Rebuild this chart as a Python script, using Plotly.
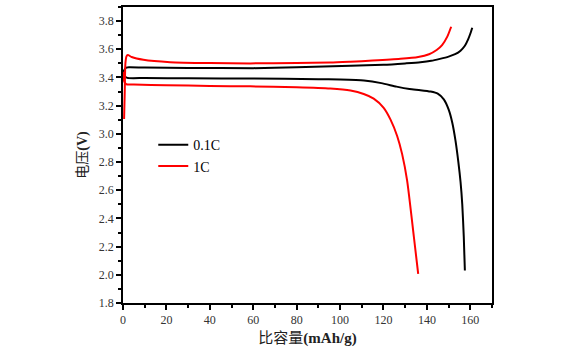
import plotly.graph_objects as go

# 0.1C charge / discharge
c01_charge_x = [0, 0.5, 1.5, 3, 10, 30, 60, 80, 105, 120, 130, 137, 142, 146, 150, 153, 155.5, 157.5, 159, 160, 160.9]
c01_charge_v = [3.40, 3.45, 3.47, 3.472, 3.47, 3.468, 3.466, 3.472, 3.483, 3.49, 3.50, 3.508, 3.518, 3.532, 3.548, 3.565, 3.59, 3.625, 3.67, 3.71, 3.753]
c01_dis_x = [0, 0.8, 2, 10, 30, 60, 90, 100, 111, 119, 126, 132, 137, 141.7, 145, 147.8, 150, 151.7, 153.2, 154.5, 155.5, 156.3, 157, 157.5]
c01_dis_v = [3.45, 3.41, 3.397, 3.396, 3.394, 3.392, 3.388, 3.385, 3.378, 3.36, 3.335, 3.318, 3.31, 3.30, 3.285, 3.244, 3.173, 3.079, 2.95, 2.80, 2.66, 2.50, 2.27, 2.03]

# 1C charge / discharge
c1_charge_x = [0.5, 0.8, 1.1, 1.6, 2.2, 4, 9.4, 21.7, 40, 58.6, 80, 95.5, 104.8, 115, 127.8, 136, 141, 144.5, 147, 149.4, 151.2]
c1_charge_v = [3.105, 3.3, 3.5, 3.55, 3.56, 3.545, 3.525, 3.508, 3.502, 3.50, 3.503, 3.506, 3.512, 3.52, 3.532, 3.545, 3.565, 3.595, 3.63, 3.69, 3.76]
c1_dis_x = [0, 0.6, 1.5, 5, 20, 40, 58.6, 80, 95.5, 104.8, 110.9, 115.5, 120.1, 123.2, 126.3, 128.6, 130.9, 134, 136]
c1_dis_v = [3.44, 3.37, 3.352, 3.35, 3.345, 3.34, 3.337, 3.33, 3.321, 3.307, 3.283, 3.25, 3.185, 3.103, 2.985, 2.856, 2.668, 2.27, 2.006]

x_ticks = [0, 20, 40, 60, 80, 100, 120, 140, 160]
y_ticks = [1.8, 2.0, 2.2, 2.4, 2.6, 2.8, 3.0, 3.2, 3.4, 3.6, 3.8]

SERIF = "Liberation Serif, Times New Roman, Noto Sans CJK SC, serif"

fig = go.Figure()
line_opts = dict(shape="spline", smoothing=0.6)
fig.add_trace(go.Scatter(x=c01_charge_x, y=c01_charge_v, mode="lines", name="0.1C",
                         line=dict(color="black", width=2, **line_opts)))
fig.add_trace(go.Scatter(x=c01_dis_x, y=c01_dis_v, mode="lines", name="0.1C", showlegend=False,
                         line=dict(color="black", width=2, **line_opts)))
fig.add_trace(go.Scatter(x=c1_charge_x, y=c1_charge_v, mode="lines", name="1C",
                         line=dict(color="#ff0000", width=2, **line_opts)))
fig.add_trace(go.Scatter(x=c1_dis_x, y=c1_dis_v, mode="lines", name="1C", showlegend=False,
                         line=dict(color="#ff0000", width=2, **line_opts)))

axis_common = dict(showline=True, linecolor="black", linewidth=1.5, mirror=True,
                   ticks="outside", ticklen=5, tickwidth=1.5, tickcolor="black",
                   showgrid=False, zeroline=False,
                   tickfont=dict(family=SERIF, size=12, color="#333"))

fig.update_layout(
    width=572, height=352,
    margin=dict(l=123, r=80, t=5, b=49),
    paper_bgcolor="white", plot_bgcolor="white",
    xaxis=dict(range=[0, 170], tickvals=x_ticks,
               minor=dict(dtick=10, tick0=0, ticks="outside", ticklen=3, tickwidth=1.5, tickcolor="black"),
               title=dict(text="比容量<b>(mAh/g)</b>", font=dict(family=SERIF, size=15, color="#222"), standoff=6),
               **axis_common),
    yaxis=dict(range=[1.8, 3.9], tickvals=y_ticks, tickformat=".1f",
               minor=dict(dtick=0.1, tick0=1.8, ticks="outside", ticklen=3, tickwidth=1.5, tickcolor="black"),
               title=dict(text="电压<b>(V)</b>", font=dict(family=SERIF, size=14, color="#222"), standoff=8),
               **axis_common),
    legend=dict(x=0.082, y=0.587, xanchor="left", yanchor="top", bgcolor="rgba(0,0,0,0)",
                font=dict(family=SERIF, size=14, color="black"), tracegroupgap=0, itemwidth=30),
    showlegend=True,
)

fig.write_html("out.html")
